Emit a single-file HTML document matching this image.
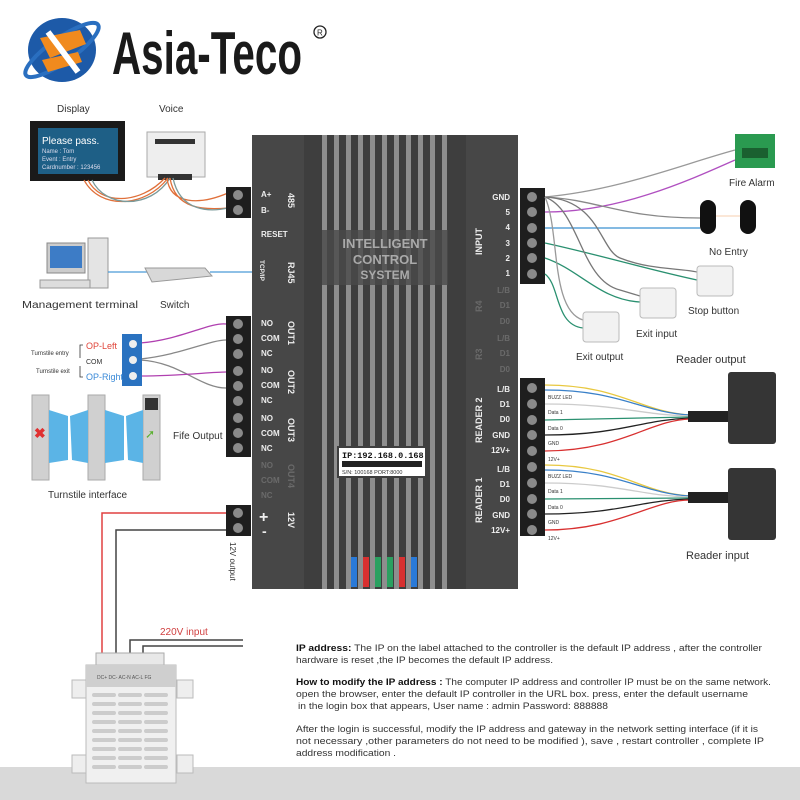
<!DOCTYPE html>
<html><head><meta charset="utf-8"><style>
html,body{margin:0;padding:0;background:#fff;}
svg{display:block;font-family:"Liberation Sans",sans-serif;}
</style></head><body>
<svg width="800" height="800" viewBox="0 0 800 800" xmlns="http://www.w3.org/2000/svg">
<rect width="800" height="800" fill="#fff"/>
<rect x="0" y="767" width="800" height="33" fill="#d9d9d9"/>

<!-- logo -->
<ellipse cx="62" cy="50" rx="34" ry="32" fill="#1d5aa8"/>
<ellipse cx="62" cy="50" rx="44" ry="12" fill="none" stroke="#2a6fc0" stroke-width="4" transform="rotate(-35 62 50)"/>
<path d="M40 38 L80 30 L86 44 L50 58 Z" fill="#f08a1e"/>
<path d="M42 60 L78 52 L82 62 L48 72 Z" fill="#f08a1e"/>
<path d="M48 32 L78 72" stroke="#fff" stroke-width="6"/>
<text x="112" y="74" font-size="60" font-weight="bold" fill="#1a1a1a" textLength="190" lengthAdjust="spacingAndGlyphs">Asia-Teco</text>
<circle cx="320" cy="32" r="6" fill="none" stroke="#222" stroke-width="1.3"/>
<text x="317" y="35.5" font-size="8" fill="#222">R</text>

<text x="57" y="112" font-size="10" fill="#333">Display</text>
<text x="159" y="112" font-size="10" fill="#333">Voice</text>
<rect x="30" y="121" width="95" height="60" fill="#1a1a1a"/>
<rect x="38" y="128" width="80" height="46" fill="#1e5f86"/>
<text x="42" y="144" font-size="10" fill="#fff">Please pass.</text>
<text x="42" y="153" font-size="6" fill="#dde">Name : Tom</text>
<text x="42" y="161" font-size="6" fill="#dde">Event : Entry</text>
<text x="42" y="169" font-size="6" fill="#dde">Cardnumber : 123456</text>
<rect x="147" y="132" width="58" height="45" fill="#eee" stroke="#aaa"/>
<rect x="155" y="139" width="40" height="5" fill="#333"/>
<rect x="158" y="174" width="34" height="6" fill="#333"/>
<path d="M88 180 C100 205 140 205 165 178 M84 180 C100 210 145 208 168 178" fill="none" stroke="#e0703a" stroke-width="1.3"/>
<path d="M92 180 C105 208 150 210 170 178" fill="none" stroke="#7a9a9a" stroke-width="1.3"/>
<path d="M167 178 C170 205 200 205 228 193 M170 178 C175 210 205 210 228 208" fill="none" stroke="#e0703a" stroke-width="1.3"/>
<path d="M173 178 C180 212 210 212 228 208" fill="none" stroke="#7a9a9a" stroke-width="1.3"/>

<rect x="47" y="243" width="38" height="30" fill="#ccc" stroke="#888"/>
<rect x="50" y="246" width="32" height="22" fill="#3d7cc6"/>
<rect x="88" y="238" width="20" height="50" fill="#e4e4e4" stroke="#999"/>
<rect x="40" y="280" width="50" height="8" fill="#ddd" stroke="#999"/>
<text x="22" y="308" font-size="10" fill="#333" textLength="116" lengthAdjust="spacingAndGlyphs">Management terminal</text>
<path d="M108 272 L148 272" stroke="#4a9ad8" stroke-width="1.3"/>
<path d="M145 268 L205 268 L212 276 L152 282 Z" fill="#d8d8d8" stroke="#999"/>
<path d="M210 272 L252 272" stroke="#4a9ad8" stroke-width="1.3"/>
<text x="160" y="308" font-size="10" fill="#333">Switch</text>

<path d="M140 343 C180 340 210 322 226 324" fill="none" stroke="#b040b0" stroke-width="1.3"/>
<path d="M140 359 C180 355 210 340 226 340" fill="none" stroke="#888" stroke-width="1.3"/>
<path d="M140 360 C180 362 200 388 226 388" fill="none" stroke="#888" stroke-width="1.3"/>
<path d="M140 376 C180 376 210 372 226 372" fill="none" stroke="#b040b0" stroke-width="1.3"/>
<rect x="122" y="334" width="20" height="52" fill="#2a72c0"/>
<circle cx="133" cy="344" r="4" fill="#eee"/><circle cx="133" cy="360" r="4" fill="#eee"/><circle cx="133" cy="376" r="4" fill="#eee"/>
<text x="86" y="349" font-size="9" fill="#e0453a">OP-Left</text>
<text x="86" y="364" font-size="7" fill="#333">COM</text>
<text x="86" y="380" font-size="9" fill="#3a8ad8">OP-Right</text>
<text x="31" y="355" font-size="6" fill="#333">Turnstile entry</text>
<text x="36" y="373" font-size="6" fill="#333">Turnstile exit</text>
<path d="M83 345 L80 345 L80 358 M83 377 L80 377 L80 366" fill="none" stroke="#333" stroke-width="0.8"/>
<rect x="32" y="395" width="17" height="85" fill="#d0d0d0" stroke="#aaa"/>
<rect x="88" y="395" width="17" height="85" fill="#d0d0d0" stroke="#aaa"/>
<rect x="143" y="395" width="17" height="85" fill="#d0d0d0" stroke="#aaa"/>
<path d="M49 410 L68 416 L68 460 L49 463 Z M70 416 L88 410 L88 463 L72 460 Z M105 410 L124 416 L124 460 L105 463 Z M126 416 L143 410 L143 463 L128 460 Z" fill="#5bb4e6"/>
<text x="34" y="438" font-size="14" fill="#e03030" font-weight="bold">✖</text>
<rect x="145" y="398" width="13" height="12" fill="#333"/>
<text x="145" y="438" font-size="12" fill="#5ab030">➚</text>
<text x="48" y="498" font-size="10" fill="#333">Turnstile interface</text>
<text x="173" y="439" font-size="10" fill="#333">Fife Output</text>

<path d="M226 513 L102 513 L102 658" fill="none" stroke="#e04040" stroke-width="1.5"/>
<path d="M226 530 L116 530 L116 658" fill="none" stroke="#444" stroke-width="1.5"/>
<path d="M130 658 L130 640 L243 640 M143 658 L143 646 L243 646" fill="none" stroke="#444" stroke-width="1.5"/>
<text x="160" y="635" font-size="10" fill="#d04040">220V input</text>
<text x="230" y="542" font-size="8" fill="#333" transform="rotate(90 230 542)">12V output</text>
<rect x="72" y="680" width="16" height="18" fill="#eee" stroke="#bbb"/>
<rect x="177" y="680" width="16" height="18" fill="#eee" stroke="#bbb"/>
<rect x="72" y="755" width="16" height="18" fill="#eee" stroke="#bbb"/>
<rect x="177" y="755" width="16" height="18" fill="#eee" stroke="#bbb"/>
<rect x="96" y="653" width="68" height="12" fill="#e8e8e8" stroke="#aaa"/>
<rect x="86" y="665" width="90" height="118" fill="#f0f0f0" stroke="#bbb"/>
<rect x="86" y="665" width="90" height="22" fill="#cfcfcf"/>
<text x="97" y="679" font-size="5" fill="#555">DC+ DC- AC-N AC-L FG</text>
<g fill="#ccc">
<rect x="92" y="693" width="24" height="4" rx="2"/><rect x="118" y="693" width="24" height="4" rx="2"/><rect x="144" y="693" width="24" height="4" rx="2"/>
<rect x="92" y="702" width="24" height="4" rx="2"/><rect x="118" y="702" width="24" height="4" rx="2"/><rect x="144" y="702" width="24" height="4" rx="2"/>
<rect x="92" y="711" width="24" height="4" rx="2"/><rect x="118" y="711" width="24" height="4" rx="2"/><rect x="144" y="711" width="24" height="4" rx="2"/>
<rect x="92" y="720" width="24" height="4" rx="2"/><rect x="118" y="720" width="24" height="4" rx="2"/><rect x="144" y="720" width="24" height="4" rx="2"/>
<rect x="92" y="729" width="24" height="4" rx="2"/><rect x="118" y="729" width="24" height="4" rx="2"/><rect x="144" y="729" width="24" height="4" rx="2"/>
<rect x="92" y="738" width="24" height="4" rx="2"/><rect x="118" y="738" width="24" height="4" rx="2"/><rect x="144" y="738" width="24" height="4" rx="2"/>
<rect x="92" y="747" width="24" height="4" rx="2"/><rect x="118" y="747" width="24" height="4" rx="2"/><rect x="144" y="747" width="24" height="4" rx="2"/>
<rect x="92" y="756" width="24" height="4" rx="2"/><rect x="118" y="756" width="24" height="4" rx="2"/><rect x="144" y="756" width="24" height="4" rx="2"/>
<rect x="92" y="765" width="24" height="4" rx="2"/><rect x="118" y="765" width="24" height="4" rx="2"/><rect x="144" y="765" width="24" height="4" rx="2"/>
</g>

<rect x="252" y="135" width="266" height="454" fill="#3e3e3e"/>
<rect x="252" y="135" width="52" height="454" fill="#474747"/>
<rect x="466" y="135" width="52" height="454" fill="#474747"/>
<g fill="#8e8e8e">
<rect x="322" y="135" width="5" height="454"/><rect x="334" y="135" width="5" height="454"/><rect x="346" y="135" width="5" height="454"/><rect x="358" y="135" width="5" height="454"/><rect x="370" y="135" width="5" height="454"/><rect x="382" y="135" width="5" height="454"/><rect x="394" y="135" width="5" height="454"/><rect x="406" y="135" width="5" height="454"/><rect x="418" y="135" width="5" height="454"/><rect x="430" y="135" width="5" height="454"/><rect x="442" y="135" width="5" height="454"/>
</g>
<rect x="322" y="230" width="126" height="55" fill="#4a4a4a" opacity="0.8"/>
<text x="385" y="248" font-size="13" fill="#aaa" text-anchor="middle" font-weight="bold">INTELLIGENT</text>
<text x="385" y="264" font-size="13" fill="#aaa" text-anchor="middle" font-weight="bold">CONTROL</text>
<text x="385" y="279" font-size="12" fill="#aaa" text-anchor="middle" font-weight="bold">SYSTEM</text>
<rect x="337" y="446" width="90" height="32" fill="#3e3e3e"/>
<rect x="339" y="448" width="86" height="28" fill="#fff"/>
<text x="342" y="458" font-size="8.5" font-weight="bold" fill="#111" font-family="Liberation Mono,monospace">IP:192.168.0.168</text>
<rect x="342" y="461" width="80" height="6" fill="#222"/>
<text x="342" y="474" font-size="5.5" fill="#333">S/N: 100168    PORT:8000</text>
<rect x="351" y="557" width="6" height="30" fill="#2a7ad8"/><rect x="363" y="557" width="6" height="30" fill="#d83030"/><rect x="375" y="557" width="6" height="30" fill="#2aa060"/><rect x="387" y="557" width="6" height="30" fill="#2aa060"/><rect x="399" y="557" width="6" height="30" fill="#d83030"/><rect x="411" y="557" width="6" height="30" fill="#2a7ad8"/>

<g font-size="8" font-weight="bold" fill="#eee">
<text x="261" y="197">A+</text><text x="261" y="213">B-</text>
<text x="261" y="237">RESET</text>
<text x="261" y="326">NO</text><text x="261" y="341">COM</text><text x="261" y="356">NC</text>
<text x="261" y="373">NO</text><text x="261" y="388">COM</text><text x="261" y="403">NC</text>
<text x="261" y="421">NO</text><text x="261" y="436">COM</text><text x="261" y="451">NC</text>
</g>
<g font-size="8" font-weight="bold" fill="#6a6a6a">
<text x="261" y="468">NO</text><text x="261" y="483">COM</text><text x="261" y="498">NC</text>
</g>
<text x="259" y="522" font-size="16" font-weight="bold" fill="#eee">+</text>
<text x="262" y="536" font-size="14" font-weight="bold" fill="#eee">-</text>
<g font-size="9" font-weight="bold" fill="#eee">
<text x="288" y="193" transform="rotate(90 288 193)">485</text>
<text x="288" y="262" transform="rotate(90 288 262)">RJ45</text>
<text x="288" y="321" transform="rotate(90 288 321)">OUT1</text>
<text x="288" y="370" transform="rotate(90 288 370)">OUT2</text>
<text x="288" y="418" transform="rotate(90 288 418)">OUT3</text>
<text x="288" y="512" transform="rotate(90 288 512)">12V</text>
</g>
<text x="288" y="464" font-size="9" font-weight="bold" fill="#6a6a6a" transform="rotate(90 288 464)">OUT4</text>
<text x="260" y="260" font-size="6.5" font-weight="bold" fill="#eee" transform="rotate(90 260 260)">TCP/IP</text>

<g font-size="8" font-weight="bold" fill="#eee" text-anchor="end">
<text x="510" y="200">GND</text><text x="510" y="215">5</text><text x="510" y="230">4</text><text x="510" y="246">3</text><text x="510" y="261">2</text><text x="510" y="276">1</text>
<text x="510" y="392">L/B</text><text x="510" y="407">D1</text><text x="510" y="422">D0</text><text x="510" y="438">GND</text><text x="510" y="453">12V+</text>
<text x="510" y="472">L/B</text><text x="510" y="487">D1</text><text x="510" y="502">D0</text><text x="510" y="518">GND</text><text x="510" y="533">12V+</text>
</g>
<g font-size="8" font-weight="bold" fill="#6a6a6a" text-anchor="end">
<text x="510" y="293">L/B</text><text x="510" y="308">D1</text><text x="510" y="324">D0</text>
<text x="510" y="341">L/B</text><text x="510" y="356">D1</text><text x="510" y="372">D0</text>
</g>
<g font-size="9" font-weight="bold" fill="#eee">
<text x="482" y="255" transform="rotate(-90 482 255)">INPUT</text>
<text x="482" y="443" transform="rotate(-90 482 443)">READER 2</text>
<text x="482" y="523" transform="rotate(-90 482 523)">READER 1</text>
</g>
<g font-size="9" font-weight="bold" fill="#6a6a6a">
<text x="482" y="312" transform="rotate(-90 482 312)">R4</text>
<text x="482" y="360" transform="rotate(-90 482 360)">R3</text>
</g>

<g fill="#1e1e1e">
<rect x="226" y="187" width="25" height="31"/>
<rect x="226" y="316" width="25" height="47"/><rect x="226" y="363" width="25" height="47"/><rect x="226" y="410" width="25" height="47"/>
<rect x="226" y="505" width="25" height="31"/>
<rect x="520" y="188" width="25" height="96"/>
<rect x="520" y="378" width="25" height="158"/>
</g>
<g fill="#8a8a8a">
<circle cx="238" cy="195" r="5"/><circle cx="238" cy="210" r="5"/>
<circle cx="238" cy="324" r="5"/><circle cx="238" cy="339" r="5"/><circle cx="238" cy="354" r="5"/>
<circle cx="238" cy="371" r="5"/><circle cx="238" cy="386" r="5"/><circle cx="238" cy="401" r="5"/>
<circle cx="238" cy="418" r="5"/><circle cx="238" cy="433" r="5"/><circle cx="238" cy="448" r="5"/>
<circle cx="238" cy="513" r="5"/><circle cx="238" cy="528" r="5"/>
<circle cx="532" cy="197" r="5"/><circle cx="532" cy="212" r="5"/><circle cx="532" cy="228" r="5"/><circle cx="532" cy="243" r="5"/><circle cx="532" cy="258" r="5"/><circle cx="532" cy="274" r="5"/>
<circle cx="532" cy="388" r="5"/><circle cx="532" cy="404" r="5"/><circle cx="532" cy="420" r="5"/><circle cx="532" cy="435" r="5"/><circle cx="532" cy="451" r="5"/>
<circle cx="532" cy="467" r="5"/><circle cx="532" cy="483" r="5"/><circle cx="532" cy="499" r="5"/><circle cx="532" cy="514" r="5"/><circle cx="532" cy="530" r="5"/>
</g>

<g fill="none" stroke-width="1.3">
<path d="M545 197 C620 190 680 165 735 150" stroke="#999"/>
<path d="M545 212 C620 212 690 180 735 160" stroke="#b050c0"/>
<path d="M545 197 C600 200 620 218 700 218" stroke="#888"/>
<path d="M545 228 L700 228" stroke="#3a90d0"/>
<path d="M545 197 C600 200 600 250 620 258 C650 270 680 268 697 272" stroke="#777"/>
<path d="M545 243 C600 255 650 270 697 280" stroke="#2a9070"/>
<path d="M545 197 C580 210 580 280 620 290 L640 296" stroke="#777"/>
<path d="M545 258 C580 270 600 300 640 302" stroke="#2a9070"/>
<path d="M545 197 C560 230 550 310 583 320" stroke="#999"/>
<path d="M545 274 C560 285 555 325 583 328" stroke="#2a9070"/>
</g>
<rect x="735" y="134" width="40" height="34" fill="#2a9a50"/>
<rect x="742" y="148" width="26" height="10" fill="#1a6030"/>
<text x="729" y="186" font-size="10" fill="#333">Fire Alarm</text>
<rect x="700" y="200" width="16" height="34" rx="8" fill="#111"/>
<rect x="740" y="200" width="16" height="34" rx="8" fill="#111"/>
<path d="M716 216 L740 216" stroke="#f0a060" stroke-width="0.6"/>
<text x="709" y="255" font-size="10" fill="#333">No Entry</text>
<rect x="697" y="266" width="36" height="30" rx="3" fill="#f2f2f2" stroke="#bbb"/>
<text x="688" y="314" font-size="10" fill="#333">Stop button</text>
<rect x="640" y="288" width="36" height="30" rx="3" fill="#f2f2f2" stroke="#bbb"/>
<text x="636" y="337" font-size="10" fill="#333">Exit input</text>
<rect x="583" y="312" width="36" height="30" rx="3" fill="#f2f2f2" stroke="#bbb"/>
<text x="576" y="360" font-size="10" fill="#333">Exit output</text>
<text x="676" y="363" font-size="11" fill="#333">Reader output</text>
<text x="686" y="559" font-size="11" fill="#333">Reader input</text>

<g fill="none" stroke-width="1.3">
<path d="M545 385 C620 385 640 412 690 415" stroke="#e8c840"/>
<path d="M545 390 C620 390 640 412 690 415" stroke="#3a80c8"/>
<path d="M545 404 C620 404 640 415 690 416" stroke="#ccc"/>
<path d="M545 420 L690 417" stroke="#2a9070"/>
<path d="M545 435 C620 435 640 420 690 418" stroke="#222"/>
<path d="M545 451 C620 451 650 420 690 419" stroke="#d83030"/>
<path d="M545 465 C620 465 640 493 690 496" stroke="#e8c840"/>
<path d="M545 470 C620 470 640 493 690 496" stroke="#3a80c8"/>
<path d="M545 483 C620 483 640 496 690 497" stroke="#ccc"/>
<path d="M545 499 L690 498" stroke="#2a9070"/>
<path d="M545 514 C620 514 640 500 690 499" stroke="#222"/>
<path d="M545 530 C620 530 650 500 690 500" stroke="#d83030"/>
</g>
<rect x="688" y="411" width="42" height="11" fill="#222"/>
<rect x="688" y="492" width="42" height="11" fill="#222"/>
<rect x="728" y="372" width="48" height="72" rx="3" fill="#353535"/>
<rect x="728" y="468" width="48" height="72" rx="3" fill="#353535"/>
<g font-size="5" fill="#333">
<text x="548" y="399">BUZZ LED</text><text x="548" y="414">Data 1</text><text x="548" y="430">Data 0</text><text x="548" y="445">GND</text><text x="548" y="461">12V+</text>
<text x="548" y="478">BUZZ LED</text><text x="548" y="493">Data 1</text><text x="548" y="509">Data 0</text><text x="548" y="524">GND</text><text x="548" y="540">12V+</text>
</g>

<g font-size="9" fill="#333">
<text x="296" y="651" textLength="466" lengthAdjust="spacingAndGlyphs"><tspan font-weight="bold" fill="#111">IP address:</tspan> The IP on the label attached to the controller is the default IP address , after the controller</text>
<text x="296" y="663" textLength="257" lengthAdjust="spacingAndGlyphs">hardware is reset ,the IP becomes the default IP address.</text>
<text x="296" y="685" textLength="475" lengthAdjust="spacingAndGlyphs"><tspan font-weight="bold" fill="#111">How to modify the IP address :</tspan> The computer IP address and controller IP must be on the same network.</text>
<text x="296" y="697" textLength="452" lengthAdjust="spacingAndGlyphs">open the browser, enter the default IP controller in the URL box.  press, enter  the default username</text>
<text x="298" y="709" textLength="310" lengthAdjust="spacingAndGlyphs">in the login box that appears, User name : admin  Password: 888888</text>
<text x="296" y="732" textLength="462" lengthAdjust="spacingAndGlyphs">After the login is successful, modify the IP address and gateway in the network setting interface (if it is</text>
<text x="296" y="744" textLength="468" lengthAdjust="spacingAndGlyphs">not  necessary ,other  parameters do not need to be modified ),  save , restart  controller , complete  IP</text>
<text x="296" y="756" textLength="100" lengthAdjust="spacingAndGlyphs">address modification .</text>
</g>
</svg>
</body></html>
